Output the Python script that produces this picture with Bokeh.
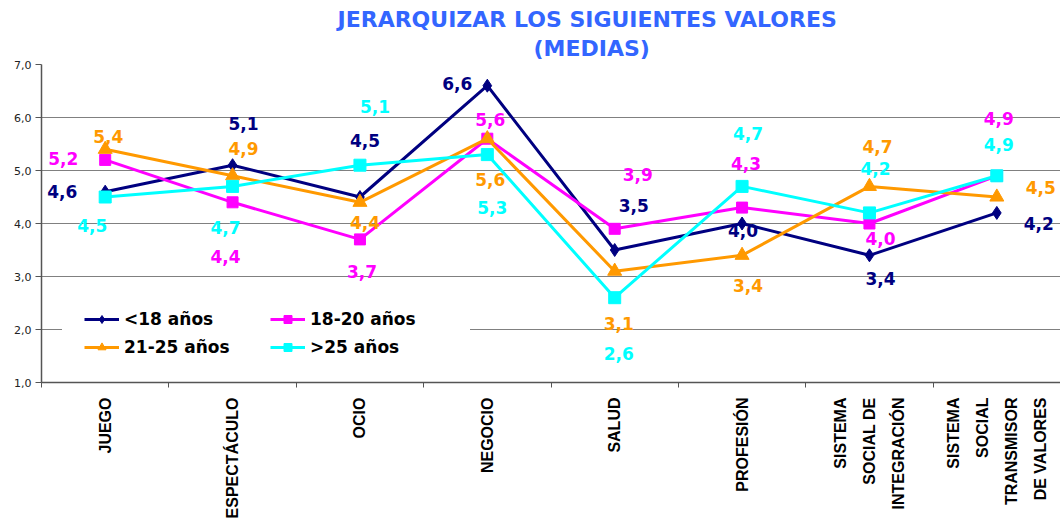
from bokeh.plotting import figure
from bokeh.models import (Range1d, FixedTicker, Legend, LegendItem, ColumnDataSource, Title)
from bokeh.core.properties import value
from bokeh.embed import file_html
from bokeh.resources import INLINE
import math

# ---------------- data ----------------
categories = ["JUEGO", "ESPECTÁCULO", "OCIO", "NEGOCIO", "SALUD", "PROFESIÓN",
              "SISTEMA\nSOCIAL DE\nINTEGRACIÓN",
              "SISTEMA\nSOCIAL\nTRANSMISOR\nDE VALORES"]
series_names = ["<18 años", "18-20 años", "21-25 años", ">25 años"]
menores_18 = [4.6, 5.1, 4.5, 6.6, 3.5, 4.0, 3.4, 4.2]
de_18_20 = [5.2, 4.4, 3.7, 5.6, 3.9, 4.3, 4.0, 4.9]
de_21_25 = [5.4, 4.9, 4.4, 5.6, 3.1, 3.4, 4.7, 4.5]
mayores_25 = [4.5, 4.7, 5.1, 5.3, 2.6, 4.7, 4.2, 4.9]
y_ticks = [1, 2, 3, 4, 5, 6, 7]
title_line1 = "JERARQUIZAR LOS SIGUIENTES VALORES"
title_line2 = "(MEDIAS)"

# ---------------- styles / label offsets (screen px) ----------------
colors = ["#000080", "#FF00FF", "#FF9900", "#00FFFF"]
markers = ["diamond", "square", "triangle", "square"]
marker_sizes = [13, 11, 14, 12]
label_dx = [
    [-43, 11, 5, -30, 19, 1, 11, 42],
    [-42, -7, 2, 3, 23, 4, 11, 2],
    [3, 11, 5, 3, 4, 6, 8, 44],
    [-13, -7, 15, 5, 4, 6, 6, 2],
]
label_dy = [
    [0, -42, -57, -2, -45, 7, 23, 11],
    [-1, 54, 32, -19, -54, -44, 15, -57],
    [-13, -27, 20, 41, 52, 30, -40, -10],
    [28, 41, -59, 53, 56, -53, -44, -31],
]

all_series = [menores_18, de_18_20, de_21_25, mayores_25]
n = len(categories)
xs = [i + 0.5 for i in range(n)]

p = figure(width=1060, height=521, output_backend="svg", toolbar_location=None,
           x_range=Range1d(0, n), y_range=Range1d(1, 7),
           min_border_left=41, min_border_right=0, min_border_top=64,
           min_border_bottom=0)
p.outline_line_color = None
p.background_fill_color = "white"
p.border_fill_color = "white"

# title (two centred lines)
t2 = Title(text=title_line2, align="left", offset=492, standoff=7,
           text_font="DejaVu Sans", text_font_style="bold", text_font_size="22px",
           text_color="#3366FF")
t1 = Title(text=title_line1, align="left", offset=296, standoff=-2,
           text_font="DejaVu Sans", text_font_style="bold", text_font_size="22px",
           text_color="#3366FF")
p.add_layout(t2, "above")
p.add_layout(t1, "above")

# x axis
xa = p.xaxis[0]
xa.ticker = FixedTicker(ticks=xs, minor_ticks=list(range(n + 1)))
xa.major_label_overrides = {x: c for x, c in zip(xs, categories)}
xa.major_label_orientation = math.pi / 2
xa.major_tick_out = 0
xa.major_tick_in = 0
xa.minor_tick_out = 5
xa.minor_tick_in = 0
xa.minor_tick_line_color = "#555555"
xa.axis_line_color = "#555555"
xa.axis_line_width = 1.5
xa.major_label_standoff = 10
xa.major_label_text_font = "Liberation Sans"
xa.major_label_text_font_style = "bold"
xa.major_label_text_font_size = "16px"
xa.major_label_text_color = "black"
xa.major_label_text_line_height = 1.7

# y axis
ya = p.yaxis[0]
ya.ticker = FixedTicker(ticks=y_ticks)
ya.major_label_overrides = {t: f"{t:.1f}".replace(".", ",") for t in y_ticks}
ya.major_tick_out = 6
ya.major_tick_in = 0
ya.major_tick_line_color = "#555555"
ya.minor_tick_line_color = None
ya.axis_line_color = "#555555"
ya.axis_line_width = 1.5
ya.major_label_standoff = 4
ya.major_label_text_font = "DejaVu Sans"
ya.major_label_text_font_size = "11px"
ya.major_label_text_color = "#222222"

p.xgrid.grid_line_color = None
p.ygrid.ticker = FixedTicker(ticks=y_ticks)
p.ygrid.grid_line_color = "#808080"
p.ygrid.grid_line_width = 1

items = []
for k, vals in enumerate(all_series):
    src = ColumnDataSource(dict(
        x=xs, y=vals,
        lbl=[f"{v:.1f}".replace(".", ",") for v in vals],
        dx=label_dx[k], dy=label_dy[k]))
    ln = p.line("x", "y", source=src, line_color=colors[k], line_width=3)
    sc = p.scatter("x", "y", source=src, marker=markers[k], size=marker_sizes[k],
                   fill_color=colors[k], line_color=colors[k])
    p.text("x", "y", text="lbl", source=src, x_offset="dx", y_offset="dy",
           text_color=colors[k], text_font=value("DejaVu Sans"),
           text_font_style="bold", text_font_size="17px",
           text_align="center", text_baseline="middle")
    items.append(LegendItem(label=series_names[k], renderers=[ln, sc]))

legend = Legend(items=items, location=(21, 3), orientation="horizontal", ncols=2,
                glyph_width=35, glyph_height=20, label_standoff=5,
                label_width=138, label_height=20, spacing=8, padding=21, margin=0,
                background_fill_color="white", background_fill_alpha=1.0,
                border_line_color="white", border_line_width=1,
                label_text_font="DejaVu Sans", label_text_font_style="bold",
                label_text_font_size="17px", label_text_color="black")
p.add_layout(legend, "center")

open("out.html", "w").write(file_html(p, INLINE))
